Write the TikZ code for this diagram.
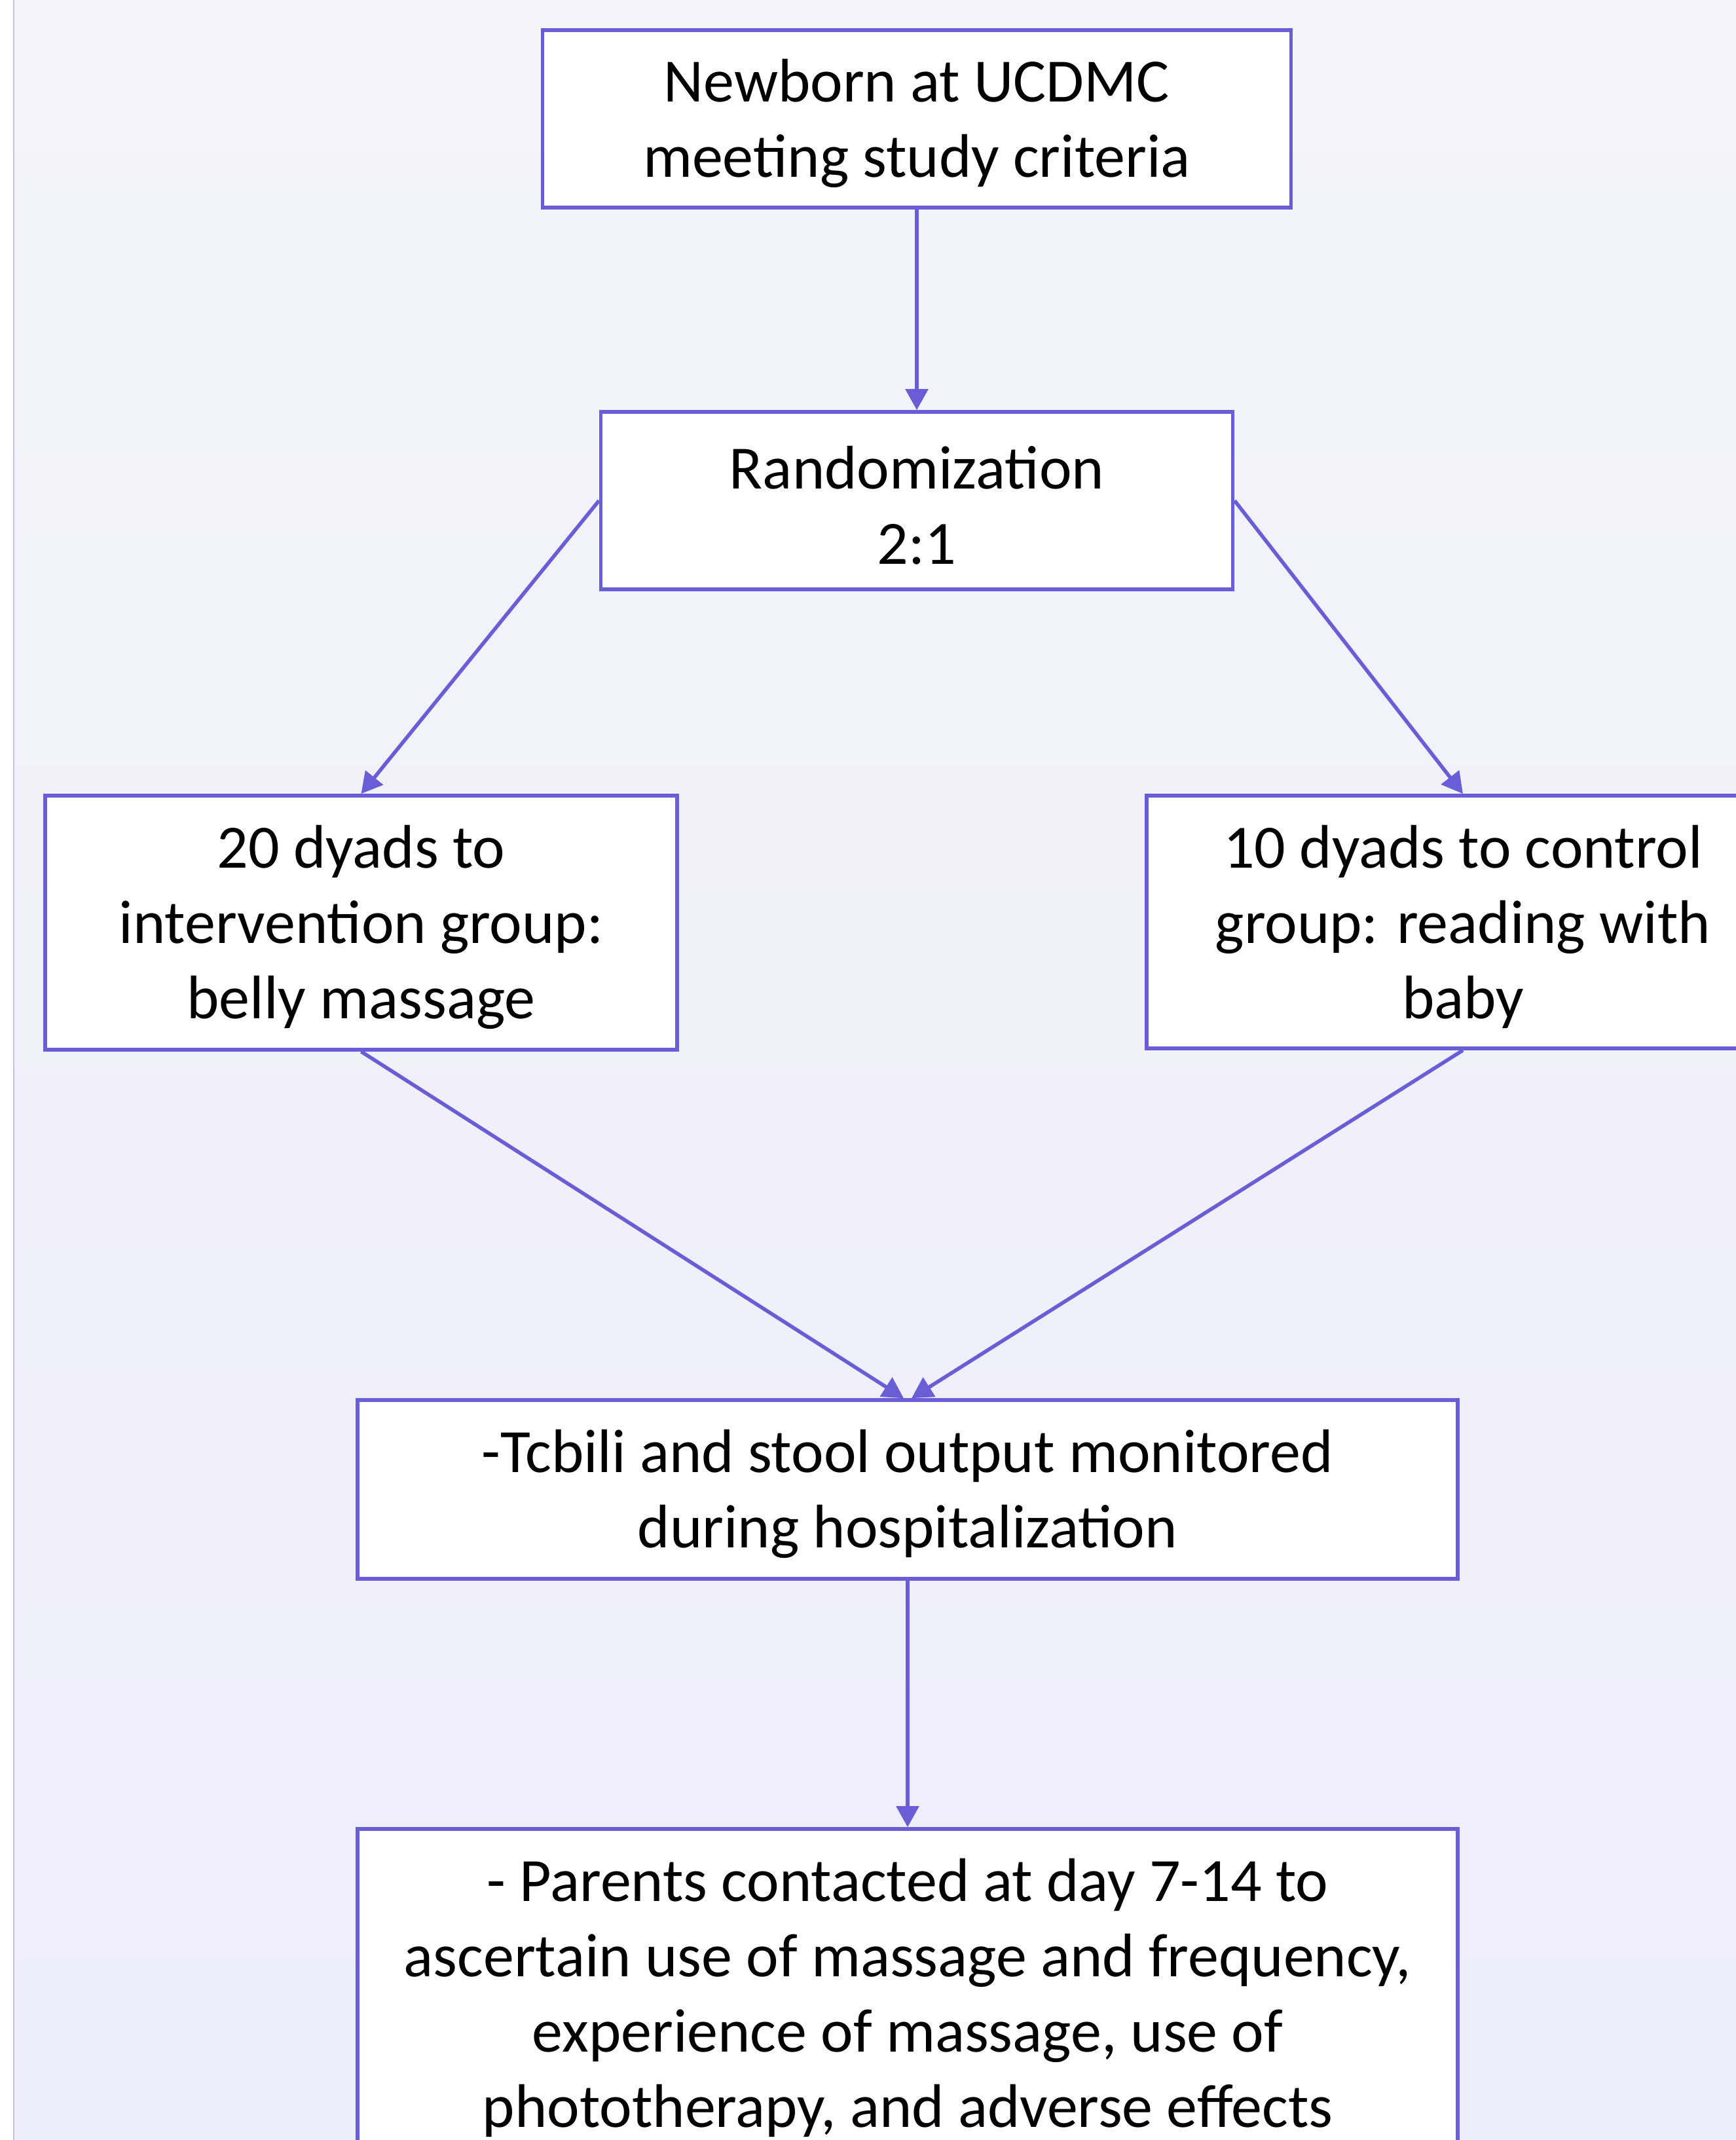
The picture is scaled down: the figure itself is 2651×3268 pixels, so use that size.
\documentclass[tikz,border=0pt]{standalone}
\usepackage{fontspec}
\setmainfont{Carlito}
\usetikzlibrary{arrows.meta,calc}
\definecolor{linecol}{HTML}{6A5ED6}
\definecolor{bgtop}{HTML}{F4F4FA}
\definecolor{bgbot}{HTML}{EEEDFA}
\definecolor{edgecol}{HTML}{C6C2E4}
\tikzset{
  box/.style={draw=linecol, fill=white, line width=1.4pt, inner sep=0pt},
  txt/.style={inner sep=0pt, align=center, font=\fontsize{23.5pt}{28.8pt}\selectfont},
  conn/.style={draw=linecol, line width=1.4pt, -{Triangle[length=8pt,width=8.5pt]}}
}
\begin{document}
\begin{tikzpicture}[x=0.25pt,y=-0.25pt]
\useasboundingbox (0,0) rectangle (2651,3268);
\clip (0,0) rectangle (2651,3268);
\fill[white] (0,0) rectangle (2651,3268);
\shade[top color=bgtop, bottom color=bgbot] (22,0) rectangle (2651,3268);
\draw[edgecol, line width=0.6pt] (21,0) -- (21,3268);

\node[box, minimum width=1143*0.25pt, minimum height=271*0.25pt] (n1) at (1400,181.5) {};
\node[box, minimum width=965*0.25pt, minimum height=271*0.25pt] (n2) at (1400,764.5) {};
\node[box, minimum width=965*0.25pt, minimum height=388*0.25pt] (n3) at (551.5,1409) {};
\node[box, minimum width=966*0.25pt, minimum height=386*0.25pt] (n4) at (2234,1408) {};
\node[box, minimum width=1680*0.25pt, minimum height=273*0.25pt] (n5) at (1386,2274.5) {};
\node[box, minimum width=1680*0.25pt, minimum height=520*0.25pt] (n6) at (1386,3053) {};

\node[txt] (t1) at ([yshift=-1.8pt]n1.center) {Newborn at UCDMC\\meeting study criteria};
\node[txt] (t2) at ([yshift=-1.8pt]n2.center) {Randomization\\2:1};
\node[txt] (t3) at ([yshift=-1.8pt]n3.center) {20 dyads to\\intervention group:\\belly massage};
\node[txt] (t4) at ([yshift=-1.8pt]n4.center) {10 dyads to control\\group: reading with\\baby};
\node[txt] (t5) at ([yshift=-1.8pt]n5.center) {-Tcbili and stool output monitored\\during hospitalization};
\node[txt] (t6) at ([yshift=0.5pt]n6.center) {- Parents contacted at day 7-14 to\\ascertain use of massage and frequency,\\experience of massage, use of\\phototherapy, and adverse effects};

\draw[conn] (n1.south) -- (n2.north);
\draw[conn] (n2.west) -- (n3.north);
\draw[conn] (n2.east) -- (n4.north);
\draw[conn] (n3.south) -- ([xshift=-1.5pt]n5.north);
\draw[conn] (n4.south) -- ([xshift=1.5pt]n5.north);
\draw[conn] (n5.south) -- (n6.north);
\end{tikzpicture}
\end{document}
